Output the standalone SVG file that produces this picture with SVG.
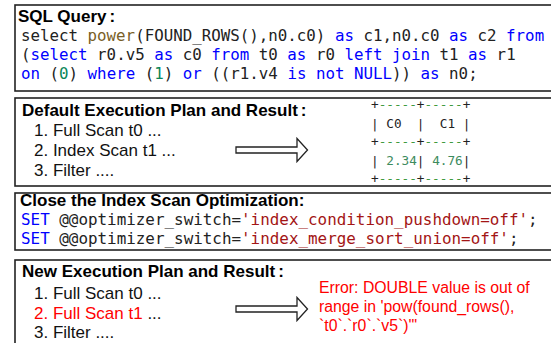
<svg xmlns="http://www.w3.org/2000/svg" width="551" height="343" viewBox="0 0 551 343">
<style>
.box{fill:#fff;stroke:#222;stroke-width:1.6}
.title{font-family:"Liberation Sans",Arial,sans-serif;font-weight:bold;font-size:17px;fill:#000}
.item{font-family:"Liberation Sans",Arial,sans-serif;font-size:17px;fill:#111}
.code{font-family:"DejaVu Sans Mono",monospace;font-size:15.8px;fill:#222;white-space:pre}
.set{font-family:"DejaVu Sans Mono",monospace;font-size:15.9px;fill:#222;white-space:pre}
.tbl{font-family:"DejaVu Sans Mono",monospace;font-size:12.7px;fill:#222;white-space:pre}
.kw{fill:#0000ff}
.fn{fill:#795e26}
.num{fill:#098658}
.str{fill:#a31515}
.g{fill:#3f9a3f}
.gn{fill:#3d8b5e}
.red{fill:#ff0000}
.err{font-family:"Liberation Sans",Arial,sans-serif;font-size:15.8px;fill:#ff0000;white-space:pre}
.arrow{fill:#fff;stroke:#222;stroke-width:1.3}
</style>
<g id="box-sql">
<rect class="box" x="15" y="5" width="545" height="86"/>
<text class="title" x="18" y="22">SQL Query<tspan dx="3">:</tspan></text>
<text class="code" x="21" y="41">select <tspan class="fn">power</tspan>(FOUND_ROWS(),n0.c0) <tspan class="kw">as</tspan> c1,n0.c0 <tspan class="kw">as</tspan> c2 <tspan class="kw">from</tspan></text>
<text class="code" x="21" y="60">(<tspan class="kw">select</tspan> r0.v5 <tspan class="kw">as</tspan> c0 <tspan class="kw">from</tspan> t0 <tspan class="kw">as</tspan> r0 <tspan class="kw">left join</tspan> t1 <tspan class="kw">as</tspan> r1</text>
<text class="code" x="21" y="79"><tspan class="kw">on</tspan> (<tspan class="num">0</tspan>) <tspan class="kw">where</tspan> (<tspan class="num">1</tspan>) <tspan class="kw">or</tspan> ((r1.v4 <tspan class="kw">is not NULL</tspan>)) <tspan class="kw">as</tspan> n0;</text>
</g>
<g id="box-default">
<rect class="box" x="15" y="98" width="545" height="88"/>
<text class="title" x="22" y="116">Default Execution Plan and Result<tspan dx="3">:</tspan></text>
<text class="item" x="34" y="136">1. Full Scan t0 ...</text>
<text class="item" x="34" y="156">2. Index Scan t1 ...</text>
<text class="item" x="34" y="176">3. Filter ....</text>
<g id="result-table">
<text class="tbl" x="371" y="109">+<tspan class="g">-----</tspan>+<tspan class="g">-----</tspan>+</text>
<text class="tbl" x="371" y="127.5">| C0  |  C1 |</text>
<text class="tbl" x="371" y="146">+<tspan class="g">-----</tspan>+<tspan class="g">-----</tspan>+</text>
<text class="tbl" x="371" y="164.5">| <tspan class="gn">2.34</tspan>| <tspan class="gn">4.76</tspan>|</text>
<text class="tbl" x="371" y="183">+<tspan class="g">-----</tspan>+<tspan class="g">-----</tspan>+</text>
</g>
</g>
<g id="box-close">
<rect class="box" x="15" y="193" width="545" height="57"/>
<text class="title" x="20" y="205.5">Close the Index Scan Optimization:</text>
<text class="set" x="21" y="224.5"><tspan class="kw">SET</tspan> @@optimizer_switch=<tspan class="str">'index_condition_pushdown=off'</tspan>;</text>
<text class="set" x="21" y="244"><tspan class="kw">SET</tspan> @@optimizer_switch=<tspan class="str">'index_merge_sort_union=off'</tspan>;</text>
</g>
<g id="box-new">
<rect class="box" x="15" y="260" width="545" height="100"/>
<text class="title" x="22" y="277">New Execution Plan and Result<tspan dx="3">:</tspan></text>
<text class="item" x="34" y="299">1. Full Scan t0 ...</text>
<text class="item" x="34" y="319"><tspan class="red">2. Full Scan t1</tspan> ...</text>
<text class="item" x="34" y="338">3. Filter ....</text>
<text class="err" x="319" y="293">Error: DOUBLE value is out of</text>
<text class="err" x="319" y="312">range in 'pow(found_rows(),</text>
<text class="err" x="319" y="331">`t0`.`r0`.`v5`)'"</text>
</g>
<g id="connectors">
<path class="arrow" d="M236,147 H297 V138.5 L307.5,150 L297,161.5 V153 H236 Z"/>
<path class="arrow" d="M236,306 H297 V297.5 L307.5,309 L297,320.5 V312 H236 Z"/>
</g>
</svg>
